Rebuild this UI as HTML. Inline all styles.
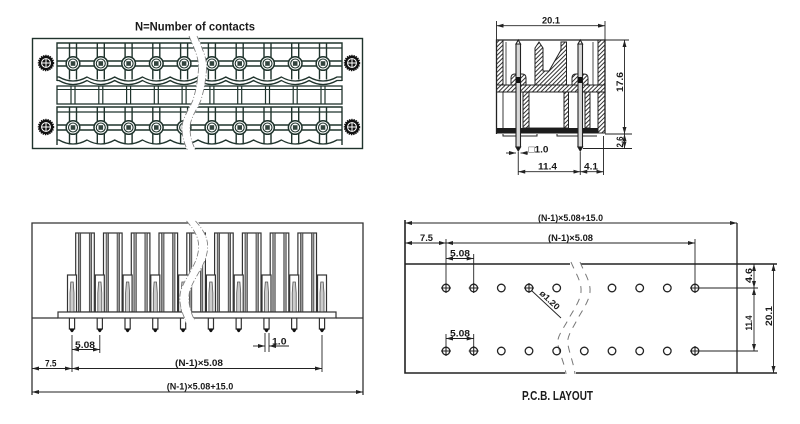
<!DOCTYPE html>
<html><head><meta charset="utf-8"><style>
html,body{margin:0;padding:0;background:#fff;}
svg{display:block;}
text{font-family:"Liberation Sans","DejaVu Sans",sans-serif;fill:#1a1a1a;}
</style></head><body>
<svg width="800" height="424" viewBox="0 0 800 424" xmlns="http://www.w3.org/2000/svg">
<defs>
<marker id="ar" viewBox="0 0 7 4" refX="7" refY="2" markerWidth="7" markerHeight="4" markerUnits="userSpaceOnUse" orient="auto-start-reverse"><path d="M0,0L7,2L0,4z" fill="#222"/></marker>
<pattern id="h" width="3" height="3" patternUnits="userSpaceOnUse" patternTransform="rotate(45)"><rect width="3" height="3" fill="#fff"/><line x1="0.5" y1="0" x2="0.5" y2="3" stroke="#333" stroke-width="1"/></pattern>
<g id="tc" fill="none" stroke="#1f332c">
<line x1="-3.5" y1="-20" x2="-3.5" y2="16" stroke-width="1.4"/>
<line x1="3.5" y1="-20" x2="3.5" y2="16" stroke-width="1.4"/>
<circle r="6.8" fill="#fff" stroke-width="1.5"/>
<circle r="4.5" stroke-width="1.1"/>
<rect x="-2.3" y="-2.3" width="4.6" height="4.6" fill="#33443e" stroke="none"/>
</g>
<g id="mc" stroke="#1f332c" stroke-width="1.2"><line x1="-2" y1="86" x2="-2" y2="104"/><line x1="2" y1="86" x2="2" y2="104"/></g>
<g id="sc"><circle r="7.2" fill="#111" stroke="#111" stroke-width="2" stroke-dasharray="1.3 0.9"/><circle r="4.4" fill="none" stroke="#fff" stroke-width="1"/><path d="M-4.8,0H4.8M0,-4.8V4.8" stroke="#fff" stroke-width="1"/></g>
<g id="bw"><rect x="3.7" y="233" width="18.6" height="79" fill="#fff" stroke="#333" stroke-width="1.2"/><rect x="6.3" y="233" width="2.4" height="79" fill="#999" stroke="#333" stroke-width="0.7"/><rect x="17.3" y="233" width="2.4" height="79" fill="#999" stroke="#333" stroke-width="0.7"/></g>
<g id="bh"><rect x="-4.5" y="275" width="9" height="37" fill="#fff" stroke="#333" stroke-width="1.2"/><path d="M-2,312V293L-1.2,282H1.2L2,293V312" stroke="#555" stroke-width="0.8" fill="#ccc"/></g>
<g id="bp"><rect x="-2.6" y="318" width="5.2" height="11" fill="#fff" stroke="#333" stroke-width="1.2"/><path d="M-2.6,328.5Q0,336 2.6,328.5z" fill="#111"/></g>
<g id="ho"><circle r="3.8" fill="none" stroke="#222" stroke-width="1.3"/></g>
<g id="hx"><circle r="3.8" fill="none" stroke="#222" stroke-width="1.3"/><path d="M-5,0H5M0,-5V5" stroke="#222" stroke-width="1.1"/></g>
</defs>

<!-- ================= TOP LEFT VIEW ================= -->
<text x="135" y="30.5" font-size="11.5" font-weight="bold" textLength="120" lengthAdjust="spacingAndGlyphs">N=Number of contacts</text>
<g fill="none" stroke="#1f332c">
<rect x="32.5" y="38.5" width="330" height="110" stroke-width="1.4"/>
<path d="M57,81V43H342V81" stroke-width="1.4"/>
<line x1="57" y1="48" x2="342" y2="48" stroke-width="1.3"/>
<line x1="57" y1="61" x2="342" y2="61" stroke-width="1.4"/>
<line x1="57" y1="66" x2="342" y2="66" stroke-width="1.4"/>
<path d="M57,77H59Q73,85 87,77Q100.8,85 114.7,77Q128.6,85 142.5,77Q156.3,85 170.2,77Q184.1,85 198,77Q211.9,85 225.8,77Q239.7,85 253.6,77Q267.5,85 281.4,77Q295.2,85 309.1,77Q323,85 337,77H342" stroke-width="1.3"/>
<path d="M57,80.5H59Q73,88.5 87,80.5Q100.8,88.5 114.7,80.5Q128.6,88.5 142.5,80.5Q156.3,88.5 170.2,80.5Q184.1,88.5 198,80.5Q211.9,88.5 225.8,80.5Q239.7,88.5 253.6,80.5Q267.5,88.5 281.4,80.5Q295.2,88.5 309.1,80.5Q323,88.5 337,80.5H342" stroke-width="1.3"/>
<rect x="57" y="86" width="285" height="18" stroke-width="1.3"/>
<line x1="57" y1="89.5" x2="342" y2="89.5" stroke-width="1"/>
<path d="M57,145V107H342V145" stroke-width="1.4"/>
<line x1="57" y1="112" x2="342" y2="112" stroke-width="1.3"/>
<line x1="57" y1="125" x2="342" y2="125" stroke-width="1.4"/>
<line x1="57" y1="130" x2="342" y2="130" stroke-width="1.4"/>
<path d="M57,140H59Q73,148 87,140Q100.8,148 114.7,140Q128.6,148 142.5,140Q156.3,148 170.2,140Q184.1,148 198,140Q211.9,148 225.8,140Q239.7,148 253.6,140Q267.5,148 281.4,140Q295.2,148 309.1,140Q323,148 337,140H342" stroke-width="1.3"/>
</g>
<use href="#mc" x="73"/><use href="#mc" x="100.8"/><use href="#mc" x="128.6"/><use href="#mc" x="156.3"/><use href="#mc" x="184.1"/><use href="#mc" x="211.9"/><use href="#mc" x="239.7"/><use href="#mc" x="267.5"/><use href="#mc" x="295.2"/><use href="#mc" x="323"/>
<use href="#tc" x="73" y="63.5"/><use href="#tc" x="100.8" y="63.5"/><use href="#tc" x="128.6" y="63.5"/><use href="#tc" x="156.3" y="63.5"/><use href="#tc" x="184.1" y="63.5"/><use href="#tc" x="211.9" y="63.5"/><use href="#tc" x="239.7" y="63.5"/><use href="#tc" x="267.5" y="63.5"/><use href="#tc" x="295.2" y="63.5"/><use href="#tc" x="323" y="63.5"/>
<use href="#tc" x="73" y="127.5"/><use href="#tc" x="100.8" y="127.5"/><use href="#tc" x="128.6" y="127.5"/><use href="#tc" x="156.3" y="127.5"/><use href="#tc" x="184.1" y="127.5"/><use href="#tc" x="211.9" y="127.5"/><use href="#tc" x="239.7" y="127.5"/><use href="#tc" x="267.5" y="127.5"/><use href="#tc" x="295.2" y="127.5"/><use href="#tc" x="323" y="127.5"/>
<use href="#sc" x="46" y="63"/><use href="#sc" x="46" y="127"/><use href="#sc" x="352" y="63"/><use href="#sc" x="352" y="127"/>
<path d="M193,35C198,48 203,58 202.5,68C202,80 200,90 197,100C193,110 186,118 186,128C186,138 189,145 192,152" fill="none" stroke="#fff" stroke-width="8"/>
<g fill="none" stroke="#777" stroke-width="0.8" stroke-dasharray="6 2 1 2">
<path transform="translate(-4,0)" d="M193,36C198,48 203,58 202.5,68C202,80 200,90 197,100C193,110 186,118 186,128C186,138 189,145 192,151"/>
<path transform="translate(4,0)" d="M193,36C198,48 203,58 202.5,68C202,80 200,90 197,100C193,110 186,118 186,128C186,138 189,145 192,151"/>
</g>

<!-- ================= TOP RIGHT VIEW ================= -->
<g stroke="#222" stroke-width="1">
<rect x="496.5" y="40" width="6.5" height="46" fill="url(#h)"/>
<rect x="598" y="40" width="7" height="93" fill="url(#h)"/>
<rect x="496.5" y="85" width="108.5" height="7" fill="url(#h)"/>
<path d="M535,85V48L539,42L543,48V71H549L561,50V42H566.5V85z" fill="url(#h)"/>
<rect x="523" y="92" width="6" height="36" fill="url(#h)"/>
<rect x="564" y="92" width="4.5" height="36" fill="url(#h)"/>
<rect x="585" y="92" width="5" height="36" fill="url(#h)"/>
<path d="M511,85V78Q511,74 515,74H522Q526,74 526,78V85z" fill="url(#h)"/>
<path d="M572,85V78Q572,74 576,74H584Q588,74 588,78V85z" fill="url(#h)"/>
</g>
<g fill="none" stroke="#222">
<path d="M496.5,134V40H605V133" stroke-width="1.3"/>
<line x1="506" y1="42" x2="506" y2="85" stroke-width="0.8"/>
<line x1="593" y1="42" x2="593" y2="85" stroke-width="0.8"/>
<rect x="529" y="92" width="35" height="36" stroke-width="0.9"/>
<line x1="503" y1="92" x2="503" y2="128" stroke-width="0.9"/>
<path d="M503,134V136H537V134M557,134V136H597" stroke-width="1"/>
</g>
<rect x="496.5" y="128" width="101.5" height="5.5" fill="#1c1c1c"/>
<g stroke="#222" stroke-width="1.1">
<rect x="516" y="44" width="4.5" height="103" fill="#d8d8d8"/>
<path d="M516,44L518.25,40L520.5,44z" fill="#fff"/>
<path d="M516,147L518.25,151L520.5,147z" fill="#111"/>
<rect x="578" y="44" width="4.5" height="103" fill="#d8d8d8"/>
<path d="M578,44L580.25,40L582.5,44z" fill="#fff"/>
<path d="M578,147L580.25,151L582.5,147z" fill="#111"/>
</g>
<rect x="516" y="77" width="4.5" height="6" fill="#111"/>
<rect x="578" y="77" width="4.5" height="6" fill="#111"/>
<g stroke="#222" stroke-width="0.9" fill="none">
<line x1="496.5" y1="21" x2="496.5" y2="40"/>
<line x1="605" y1="21" x2="605" y2="40"/>
<line x1="496.5" y1="25.7" x2="605" y2="25.7" marker-start="url(#ar)" marker-end="url(#ar)"/>
<line x1="605" y1="40" x2="629" y2="40"/>
<line x1="605" y1="134" x2="632" y2="134"/>
<line x1="583" y1="148.5" x2="632" y2="148.5"/>
<line x1="624.5" y1="40" x2="624.5" y2="134" marker-start="url(#ar)" marker-end="url(#ar)"/>
<line x1="624.5" y1="134" x2="624.5" y2="148.5" marker-start="url(#ar)" marker-end="url(#ar)"/>
<line x1="518.25" y1="152" x2="518.25" y2="175"/>
<line x1="580.25" y1="152" x2="580.25" y2="175"/>
<line x1="603.5" y1="136" x2="603.5" y2="175"/>
<line x1="518.25" y1="171.7" x2="580.25" y2="171.7" marker-start="url(#ar)" marker-end="url(#ar)"/>
<line x1="580.25" y1="171.7" x2="603.5" y2="171.7" marker-start="url(#ar)" marker-end="url(#ar)"/>
<line x1="506" y1="153" x2="516" y2="153" marker-end="url(#ar)"/>
<line x1="528" y1="153" x2="520.5" y2="153" marker-end="url(#ar)"/>
</g>
<g font-size="9.5" font-weight="bold">
<text x="551" y="23.5" text-anchor="middle" textLength="18" lengthAdjust="spacingAndGlyphs">20.1</text>
<text transform="translate(623,82) rotate(-90)" text-anchor="middle" textLength="20" lengthAdjust="spacingAndGlyphs">17.6</text>
<text transform="translate(623,142) rotate(-90)" text-anchor="middle" textLength="11" lengthAdjust="spacingAndGlyphs">2.6</text>
<text x="528.5" y="152.5" textLength="20" lengthAdjust="spacingAndGlyphs">□1.0</text>
<text x="538" y="169.5" textLength="19" lengthAdjust="spacingAndGlyphs">11.4</text>
<text x="584" y="169.5" textLength="14" lengthAdjust="spacingAndGlyphs">4.1</text>
</g>

<!-- ================= BOTTOM LEFT VIEW ================= -->
<use href="#bw" x="72"/><use href="#bw" x="99.8"/><use href="#bw" x="127.6"/><use href="#bw" x="155.3"/><use href="#bw" x="183.1"/><use href="#bw" x="210.9"/><use href="#bw" x="238.7"/><use href="#bw" x="266.5"/><use href="#bw" x="294.2"/>
<use href="#bh" x="72"/><use href="#bh" x="99.8"/><use href="#bh" x="127.6"/><use href="#bh" x="155.3"/><use href="#bh" x="183.1"/><use href="#bh" x="210.9"/><use href="#bh" x="238.7"/><use href="#bh" x="266.5"/><use href="#bh" x="294.2"/><use href="#bh" x="322"/>
<use href="#bp" x="72"/><use href="#bp" x="99.8"/><use href="#bp" x="127.6"/><use href="#bp" x="155.3"/><use href="#bp" x="183.1"/><use href="#bp" x="210.9"/><use href="#bp" x="238.7"/><use href="#bp" x="266.5"/><use href="#bp" x="294.2"/><use href="#bp" x="322"/>
<rect x="58" y="312" width="278" height="6" fill="#fff" stroke="#333" stroke-width="1.2"/>
<g fill="none" stroke="#333" stroke-width="1.3">
<path d="M32,395V223H363V395"/>
<path d="M32,318H58M336,318H363"/>
</g>
<path d="M191,220C199,230 206,240 202,255C199,268 188,280 185,292C183,302 186,312 190,321" fill="none" stroke="#fff" stroke-width="9"/>
<g fill="none" stroke="#777" stroke-width="0.8" stroke-dasharray="6 2 1 2">
<path transform="translate(-4.5,0)" d="M191,221C199,230 206,240 202,255C199,268 188,280 185,292C183,302 186,312 190,320"/>
<path transform="translate(4.5,0)" d="M191,221C199,230 206,240 202,255C199,268 188,280 185,292C183,302 186,312 190,320"/>
</g>
<g stroke="#222" stroke-width="0.9" fill="none">
<line x1="72" y1="335" x2="72" y2="372"/>
<line x1="99.8" y1="335" x2="99.8" y2="353"/>
<line x1="322" y1="335" x2="322" y2="372"/>
<line x1="72" y1="349.5" x2="99.8" y2="349.5" marker-start="url(#ar)" marker-end="url(#ar)"/>
<line x1="265" y1="333" x2="265" y2="352"/>
<line x1="269" y1="333" x2="269" y2="352"/>
<line x1="253" y1="346" x2="265" y2="346" marker-end="url(#ar)"/>
<line x1="289" y1="346" x2="269" y2="346" marker-end="url(#ar)"/>
<line x1="32" y1="368.5" x2="72" y2="368.5" marker-start="url(#ar)" marker-end="url(#ar)"/>
<line x1="72" y1="368.5" x2="322" y2="368.5" marker-start="url(#ar)" marker-end="url(#ar)"/>
<line x1="32" y1="392" x2="363" y2="392" marker-start="url(#ar)" marker-end="url(#ar)"/>
</g>
<g font-size="9.5" font-weight="bold">
<text x="75" y="348" textLength="20" lengthAdjust="spacingAndGlyphs">5.08</text>
<text x="272" y="344.5" textLength="14.5" lengthAdjust="spacingAndGlyphs">1.0</text>
<text x="45" y="366.5" textLength="11.5" lengthAdjust="spacingAndGlyphs">7.5</text>
<text x="175" y="366" textLength="48" lengthAdjust="spacingAndGlyphs">(N-1)×5.08</text>
<text x="166.7" y="389.5" textLength="66.6" lengthAdjust="spacingAndGlyphs">(N-1)×5.08+15.0</text>
</g>

<!-- ================= PCB LAYOUT ================= -->
<g fill="none" stroke="#222" stroke-width="1.6">
<path d="M405,220V373H565M576,373H777"/>
<path d="M405,264H570M581,264H777"/>
<path d="M737,223V373" stroke-width="1.3"/>
</g>
<g fill="none" stroke="#777" stroke-width="1" stroke-dasharray="7 6">
<path d="M571,262C575,272 582,282 581,292C580,302 572,312 568,320C564,328 556,337 558,345C560,355 565,365 566,374"/>
<path d="M580,262C584,272 591,282 590,292C589,302 581,312 577,320C573,328 566,337 568,345C570,355 574,365 575,374"/>
</g>
<use href="#hx" x="446" y="288"/><use href="#hx" x="473.7" y="288"/><use href="#ho" x="501.3" y="288"/><use href="#hx" x="529" y="288"/><use href="#ho" x="556.7" y="288"/><use href="#ho" x="612" y="288"/><use href="#ho" x="639.7" y="288"/><use href="#ho" x="667.3" y="288"/><use href="#hx" x="695" y="288"/>
<use href="#hx" x="446" y="351"/><use href="#hx" x="473.7" y="351"/><use href="#ho" x="501.3" y="351"/><use href="#ho" x="529" y="351"/><use href="#ho" x="556.7" y="351"/><use href="#ho" x="584.3" y="351"/><use href="#ho" x="612" y="351"/><use href="#ho" x="639.7" y="351"/><use href="#ho" x="667.3" y="351"/><use href="#hx" x="695" y="351"/>
<g stroke="#222" stroke-width="0.9" fill="none">
<line x1="405" y1="223" x2="737" y2="223" marker-start="url(#ar)" marker-end="url(#ar)"/>
<line x1="405" y1="243" x2="446" y2="243" marker-start="url(#ar)" marker-end="url(#ar)"/>
<line x1="446" y1="243" x2="695" y2="243" marker-start="url(#ar)" marker-end="url(#ar)"/>
<line x1="446" y1="239" x2="446" y2="284"/>
<line x1="473.7" y1="254" x2="473.7" y2="284"/>
<line x1="695" y1="239" x2="695" y2="284"/>
<line x1="446" y1="258.5" x2="473.7" y2="258.5" marker-start="url(#ar)" marker-end="url(#ar)"/>
<line x1="446" y1="334" x2="446" y2="347"/>
<line x1="473.7" y1="334" x2="473.7" y2="347"/>
<line x1="446" y1="338.5" x2="473.7" y2="338.5" marker-start="url(#ar)" marker-end="url(#ar)"/>
<line x1="700" y1="288" x2="758" y2="288"/>
<line x1="700" y1="351" x2="758" y2="351"/>
<line x1="754" y1="264" x2="754" y2="288" marker-start="url(#ar)" marker-end="url(#ar)"/>
<line x1="754" y1="288" x2="754" y2="351" marker-start="url(#ar)" marker-end="url(#ar)"/>
<line x1="773.5" y1="264" x2="773.5" y2="373" marker-start="url(#ar)" marker-end="url(#ar)"/>
<line x1="531.5" y1="290.5" x2="561" y2="318"/>
</g>
<g font-size="9.5" font-weight="bold">
<text x="538" y="221" textLength="65" lengthAdjust="spacingAndGlyphs">(N-1)×5.08+15.0</text>
<text x="420" y="241" textLength="13" lengthAdjust="spacingAndGlyphs">7.5</text>
<text x="548" y="241" textLength="45" lengthAdjust="spacingAndGlyphs">(N-1)×5.08</text>
<text x="450" y="256.5" textLength="20" lengthAdjust="spacingAndGlyphs">5.08</text>
<text x="450" y="336.5" textLength="20" lengthAdjust="spacingAndGlyphs">5.08</text>
<text transform="translate(752,275.5) rotate(-90)" text-anchor="middle" textLength="15" lengthAdjust="spacingAndGlyphs">4.6</text>
<text transform="translate(752,323) rotate(-90)" text-anchor="middle" textLength="15" lengthAdjust="spacingAndGlyphs">11.4</text>
<text transform="translate(772,316) rotate(-90)" text-anchor="middle" textLength="20" lengthAdjust="spacingAndGlyphs">20.1</text>
<text transform="translate(539,294) rotate(43)" font-size="8.5" textLength="24" lengthAdjust="spacingAndGlyphs">ø1.20</text>
</g>
<text x="522" y="400" font-size="13" font-weight="bold" textLength="71" lengthAdjust="spacingAndGlyphs">P.C.B. LAYOUT</text>
</svg>
</body></html>
